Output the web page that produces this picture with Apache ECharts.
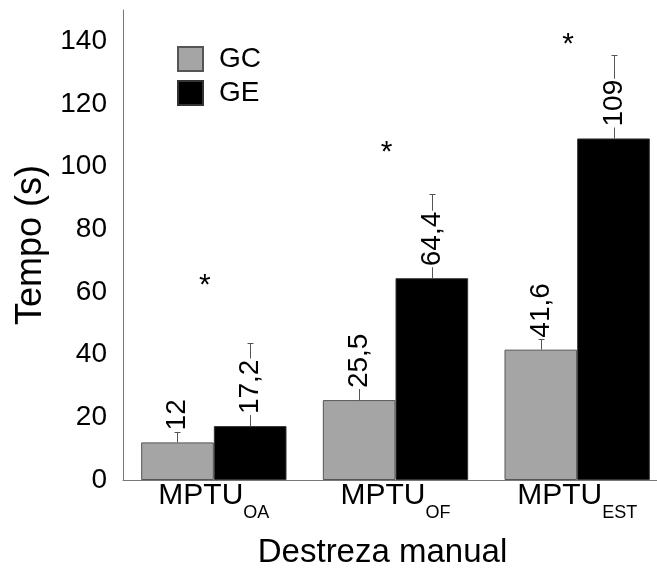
<!DOCTYPE html>
<html>
<head>
<meta charset="utf-8">
<script src="https://cdn.jsdelivr.net/npm/echarts@6/dist/echarts.min.js"></script>
<style>
  html, body { margin: 0; padding: 0; background: #fff; }
  #chart { width: 657px; height: 574px; }
</style>
</head>
<body>
<div id="chart"></div>
<script>
// Manual dexterity test times (MPTU), control vs. experimental group
const categories = ['OA', 'OF', 'EST'];
const gcMean = [12, 25.5, 41.6];
const geMean = [17.2, 64.4, 109];
const gcSd = [3.2, 4, 3.5];
const geSd = [26.4, 26.9, 26.6];
const starLevel = [63.5, 106.2, 140.5];

const FONT = '"Liberation Sans", Arial, sans-serif';
const BAR_FRACTION = 0.4;

function fmt(v) {
  return String(v).replace('.', ',');
}

// Upper SD whisker plus rotated value label for one group
function errorSeries(means, sds, side) {
  return {
    type: 'custom',
    z: 5,
    silent: true,
    data: means.map((m, i) => [i, m, sds[i]]),
    renderItem(params, api) {
      const i = api.value(0), m = api.value(1), sd = api.value(2);
      const band = api.size([1, 0])[0];
      const barW = band * BAR_FRACTION;
      const top = api.coord([i, m]);
      const x = Math.round(top[0] + side * barW / 2) + 0.5;
      const yTop = top[1];
      const yEnd = Math.round(api.coord([i, m + sd])[1]) + 0.5;
      const cap = 3;
      return {
        type: 'group',
        children: [
          { type: 'line', shape: { x1: x, y1: yTop, x2: x, y2: yEnd },
            style: { stroke: '#555', lineWidth: 1 } },
          { type: 'line', shape: { x1: x - cap, y1: yEnd, x2: x + cap, y2: yEnd },
            style: { stroke: '#555', lineWidth: 1 } },
          { type: 'text', x: x, y: yTop - 11, rotation: Math.PI / 2,
            style: { text: fmt(m), fontSize: 28, fontFamily: FONT, fill: '#000',
                     align: 'left', verticalAlign: 'middle',
                     backgroundColor: '#fff', padding: [0, 1] } }
        ]
      };
    }
  };
}

const chart = echarts.init(document.getElementById('chart'));
chart.setOption({
  animation: false,
  backgroundColor: '#fff',
  textStyle: { fontFamily: FONT },
  grid: { left: 123, right: -11, top: 10, bottom: 94, containLabel: false, outerBoundsMode: 'none' },
  legend: {
    data: ['GC', 'GE'],
    orient: 'vertical',
    left: 172,
    top: 40,
    icon: 'rect',
    itemWidth: 25,
    itemHeight: 24,
    itemGap: 6,
    textStyle: { fontSize: 28, color: '#000', fontFamily: FONT, padding: [0, 0, 0, 11] }
  },
  xAxis: {
    type: 'category',
    data: categories,
    axisLine: { lineStyle: { color: '#777', width: 1 } },
    axisTick: { show: false },
    axisLabel: {
      margin: 1,
      interval: 0,
      formatter: v => '{m|MPTU}{s|' + v + '}',
      rich: {
        m: { fontSize: 30, color: '#000', fontFamily: FONT, verticalAlign: 'top', lineHeight: 32 },
        s: { fontSize: 18, color: '#000', fontFamily: FONT, verticalAlign: 'bottom', lineHeight: 41 }
      }
    },
    name: 'Destreza manual',
    nameLocation: 'middle',
    nameGap: 56,
    nameTextStyle: { fontSize: 33, color: '#000', fontFamily: FONT, padding: [0, 26, 0, 0] }
  },
  yAxis: {
    type: 'value',
    min: 0,
    max: 150,
    interval: 20,
    axisLine: { show: true, lineStyle: { color: '#777', width: 1 } },
    axisTick: { show: false },
    splitLine: { show: false },
    axisLabel: { fontSize: 28, color: '#000', margin: 16, showMaxLabel: false, fontFamily: FONT },
    name: 'Tempo (s)',
    nameLocation: 'middle',
    nameGap: 72,
    nameTextStyle: { fontSize: 36, color: '#000', fontFamily: FONT }
  },
  series: [
    {
      name: 'GC', type: 'bar', data: gcMean,
      barWidth: (BAR_FRACTION * 100) + '%', barGap: '0%',
      itemStyle: { color: '#a5a5a5', borderColor: '#555', borderWidth: 1 }
    },
    {
      name: 'GE', type: 'bar', data: geMean,
      barWidth: (BAR_FRACTION * 100) + '%', barGap: '0%',
      itemStyle: { color: '#000', borderColor: '#333', borderWidth: 1 }
    },
    errorSeries(gcMean, gcSd, -1),
    errorSeries(geMean, geSd, 1),
    {
      // significance markers
      type: 'custom',
      z: 6,
      silent: true,
      data: starLevel.map((v, i) => [i, v]),
      renderItem(params, api) {
        const p = api.coord([api.value(0), api.value(1)]);
        return {
          type: 'text', x: p[0] - 9, y: p[1] + 5,
          style: { text: '*', fontSize: 30, fontFamily: FONT, fill: '#000',
                   align: 'center', verticalAlign: 'middle' }
        };
      }
    }
  ]
});
</script>
</body>
</html>
